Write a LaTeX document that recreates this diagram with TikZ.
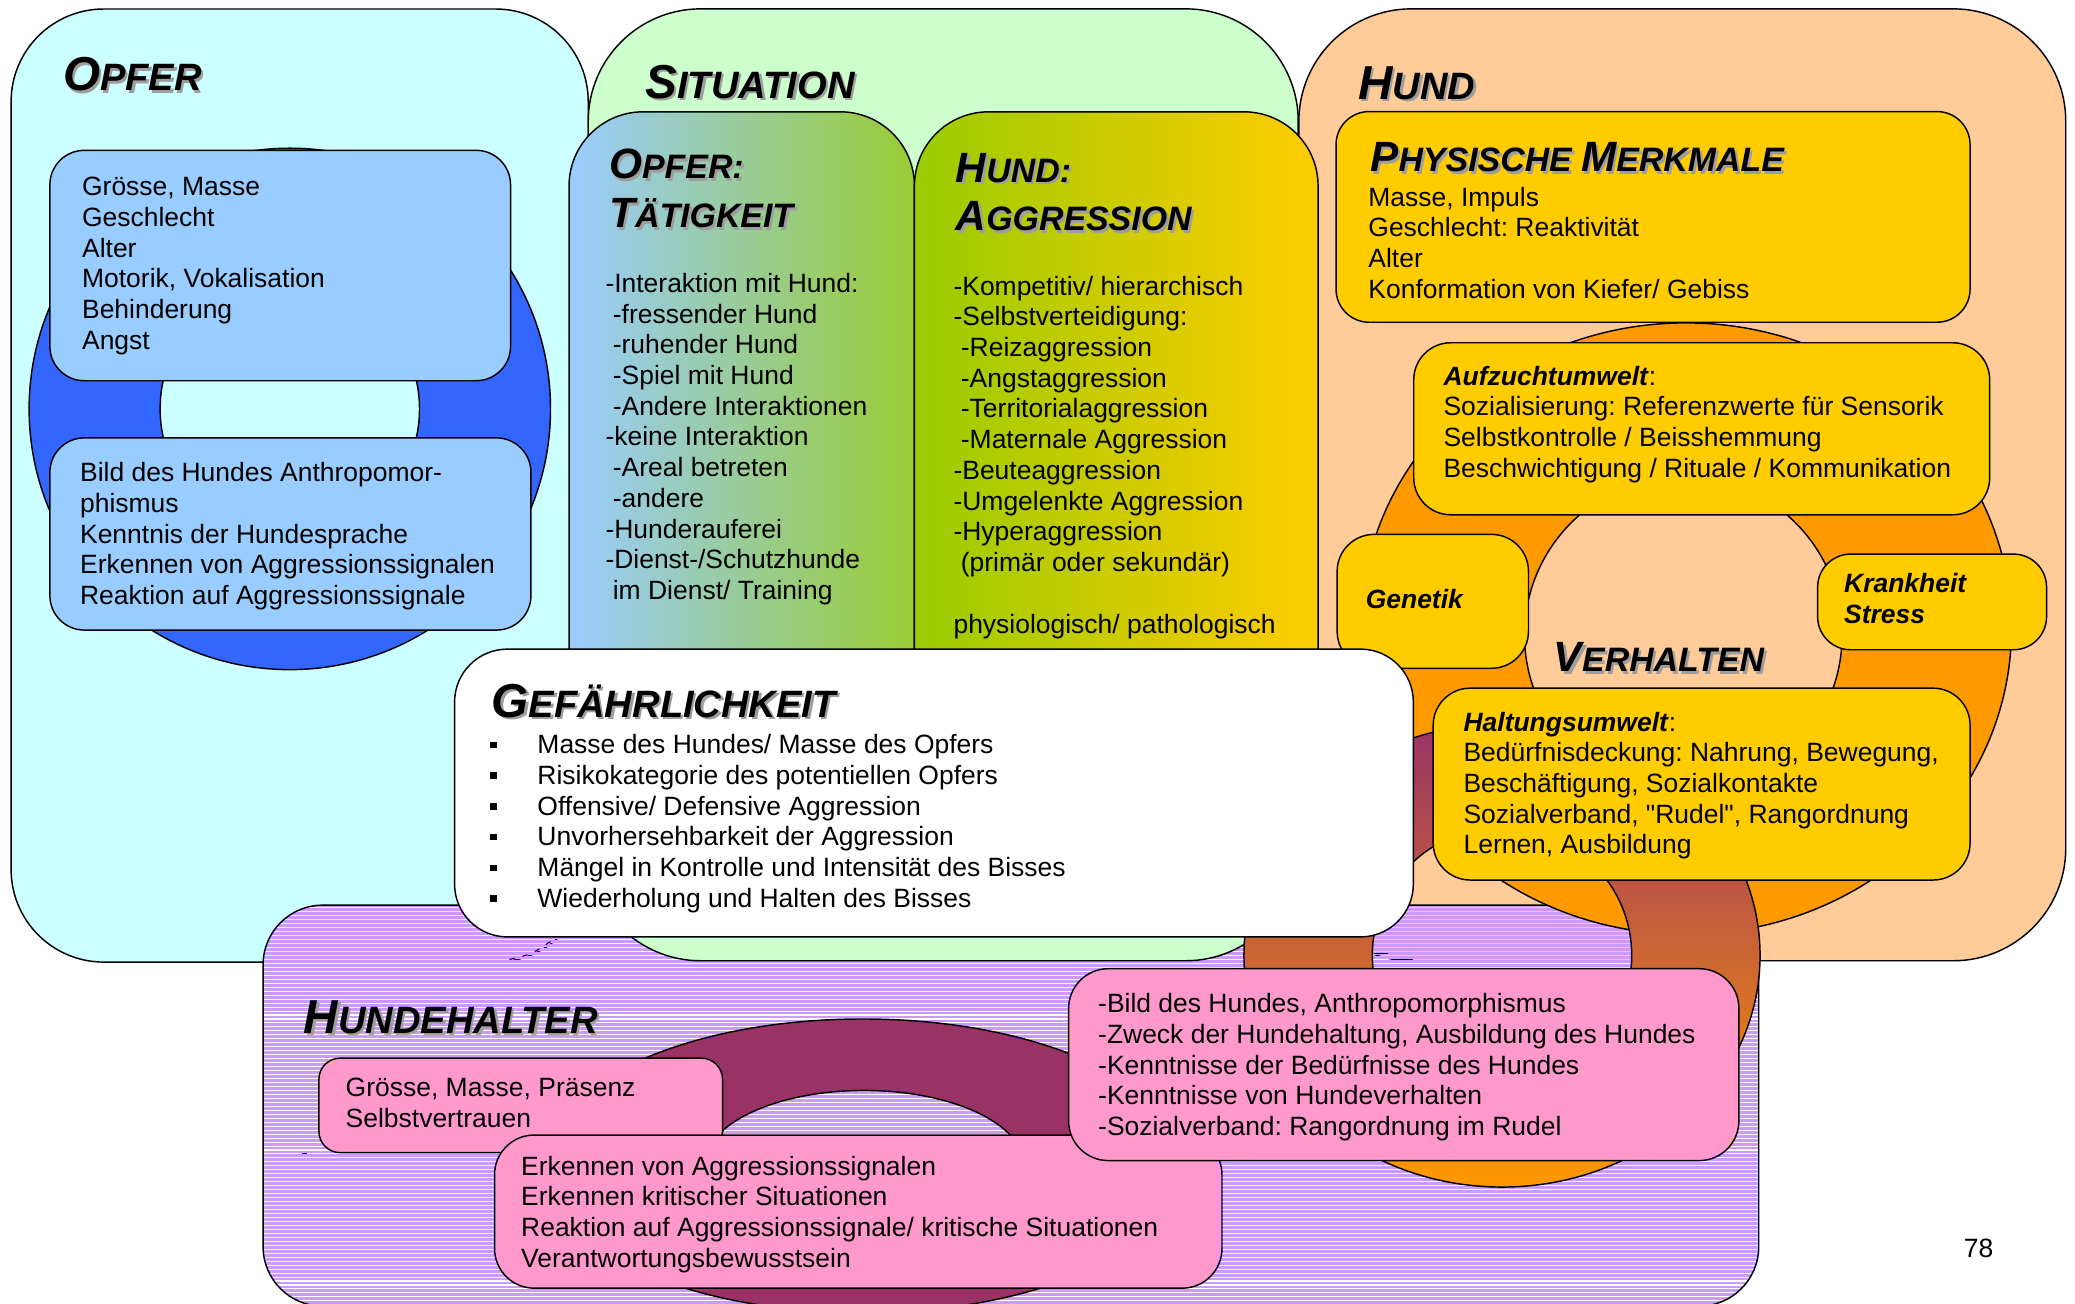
\documentclass[tikz,border=0pt]{standalone}
\usepackage{fontspec}
\setmainfont{Liberation Sans}
\newfontfamily\qfont{Liberation Sans}
\definecolor{cyanP}{HTML}{CCFFFF}
\definecolor{greenP}{HTML}{CCFFCC}
\definecolor{peachP}{HTML}{FFCC99}
\definecolor{blueR}{HTML}{3366FF}
\definecolor{lblue}{HTML}{99CCFF}
\definecolor{yelB}{HTML}{FFCC00}
\definecolor{orngR}{HTML}{FF9900}
\definecolor{purpP}{HTML}{CC99FF}
\definecolor{pinkB}{HTML}{FF99CC}
\definecolor{maroonR}{HTML}{993366}
\definecolor{grnY}{HTML}{99CC00}
\definecolor{grnB}{HTML}{99CC33}
\newcommand\HA[2]{{\fontsize{36}{40}\selectfont #1}{\fontsize{28.8}{32}\selectfont #2}}
\newcommand\HB[2]{{\fontsize{32}{36}\selectfont #1}{\fontsize{25.6}{30}\selectfont #2}}
\newcommand\heading[4]{\node[hd, text=black!38] (#1s) at ({#2+1.8},{#3+1.8}) {#4};\node[hd] (#1) at (#2,#3) {#4};}
\newcommand\tlines[4]{\foreach \tx [count=\ii] in {#4} {\node[txt] (#1-\ii) at (#2,{#3+(\ii-1)*23.2}) {\tx};}}
\newcommand\sq{{\qfont"}}
\frenchspacing
\begin{document}
\frenchspacing
\begin{tikzpicture}[x=1pt,y=-1pt,line width=1.1pt,
  txt/.style={anchor=base west,inner sep=0pt,font=\fontsize{20}{24}\selectfont\frenchspacing},
  hd/.style={anchor=base west,inner sep=0pt,font=\bfseries\itshape}]
\useasboundingbox (0,0) rectangle (1568,985);
\fill[white] (0,0) rectangle (1568,985);

% ---- panels
\draw[fill=cyanP,rounded corners=70pt] (8.4,6.8) rectangle (444.5,727);
\draw[fill=peachP,rounded corners=85pt] (981.5,6.7) rectangle (1561,726);
\begin{scope}
  \clip[rounded corners=45pt] (198.8,684) rectangle (1329,987);
  \foreach \yy in {684.5,687.5,...,990} {\draw[purpP,line width=2.2pt] (190,\yy) -- (1340,\yy);}
\end{scope}
\draw[rounded corners=45pt] (198.8,684) rectangle (1329,987);
\draw[fill=greenP,rounded corners=85pt] (444.5,6.7) rectangle (981,726);

% ---- Opfer
\path[fill=blueR,draw=black,even odd rule] (219,309) circle[radius=197pt] (219,309) circle[radius=98pt];
\draw[fill=lblue,rounded corners=26pt] (37.7,113.6) rectangle (385.8,287.7);
\draw[fill=lblue,rounded corners=26pt] (37.7,330.9) rectangle (401.2,476.1);
\heading{hOpfer}{47.2}{68.5}{\HA{O}{PFER}}
\tlines{op1}{61.5}{148}{{Grösse, Masse},{Geschlecht},{Alter},{Motorik, Vokalisation},{Behinderung},{Angst}}
\tlines{op2}{60}{364}{{Bild des Hundes Anthropomor-},{phismus},{Kenntnis der Hundesprache},{Erkennen von Aggressionssignalen},{Reaktion auf Aggressionssignale}}

% ---- Situation
\heading{hSit}{487.3}{74.2}{\HA{S}{ITUATION}}
\path[draw=black,left color=lblue,right color=grnB,rounded corners=56pt] (430,84.5) rectangle (691,620);
\path[draw=black,left color=grnY,right color=yelB,rounded corners=56pt] (691,84.5) rectangle (996,620);
\heading{hOT1}{459.8}{135}{\HB{O}{PFER:}}
\heading{hOT2}{459.8}{172}{\HB{T}{ÄTIGKEIT}}
\heading{hHA1}{721.7}{137.6}{\HB{H}{UND:}}
\heading{hHA2}{721.7}{174.4}{\HB{A}{GGRESSION}}
\tlines{ot}{457}{221}{{-Interaktion mit Hund:},{\ -fressender Hund},{\ -ruhender Hund},{\ -Spiel mit Hund},{\ -Andere Interaktionen},{-keine Interaktion},{\ -Areal betreten},{\ -andere},{-Hunderauferei},{-Dienst-/Schutzhunde},{\ im Dienst/ Training}}
\tlines{ag}{720}{223}{{-Kompetitiv/ hierarchisch},{-Selbstverteidigung:},{\ -Reizaggression},{\ -Angstaggression},{\ -Territorialaggression},{\ -Maternale Aggression},{-Beuteaggression},{-Umgelenkte Aggression},{-Hyperaggression},{\ (primär oder sekundär)}}
\node[txt] (agPhys) at (720,478.4) {physiologisch/ pathologisch};

% ---- Hund
\path[fill=orngR,draw=black,even odd rule] (1274,475) ellipse[x radius=246pt,y radius=231pt] (1272,480) circle[radius=120pt];
\draw[fill=yelB,rounded corners=25pt] (1009.6,84.3) rectangle (1488.7,243.5);
\draw[fill=yelB,rounded corners=28pt] (1068.3,259) rectangle (1503.5,389);
\draw[fill=yelB,rounded corners=28pt] (1010.4,403.8) rectangle (1155,505);
\draw[fill=yelB,rounded corners=25pt] (1373.5,418.7) rectangle (1546.5,491);
\heading{hHund}{1026}{75}{\HA{H}{UND}}
\heading{hPhys}{1035}{129.9}{\HB{P}{HYSISCHE}\hspace{7pt}\HB{M}{ERKMALE}}
\tlines{ph}{1033.5}{155.8}{{Masse, Impuls},{Geschlecht: Reaktivität},{Alter},{Konformation von Kiefer/ Gebiss}}
\tlines{au}{1090.3}{291}{{\textbf{\textit{Aufzuchtumwelt}}:},{Sozialisierung: Referenzwerte für Sensorik},{Selbstkontrolle / Beisshemmung},{Beschwichtigung / Rituale / Kommunikation}}
\node[txt,font=\fontsize{20}{24}\selectfont\bfseries\itshape] (gen) at (1031.5,459.5) {Genetik};
\node[txt,font=\fontsize{20}{24}\selectfont\bfseries\itshape] (kr1) at (1393,448) {Krankheit};
\node[txt,font=\fontsize{20}{24}\selectfont\bfseries\itshape] (kr2) at (1393,471.2) {Stress};
\heading{hVerh}{1173.7}{507.7}{\HB{V}{ERHALTEN}}

% ---- connecting ring
\path[draw=black,top color=maroonR,bottom color=orngR,even odd rule] (1135,722) ellipse[x radius=195pt,y radius=175pt] (1135,722) ellipse[x radius=98pt,y radius=97pt];
\draw[fill=yelB,rounded corners=28pt] (1083,520) rectangle (1488.7,665);
\tlines{ha}{1105.4}{552.4}{{\textbf{\textit{Haltungsumwelt}}:},{Bedürfnisdeckung: Nahrung, Bewegung,},{Beschäftigung, Sozialkontakte},{Sozialverband, \sq Rudel\sq, Rangordnung},{Lernen, Ausbildung}}

% ---- Gefaehrlichkeit
\draw[fill=white,rounded corners=40pt] (343.5,490.5) rectangle (1068,708);
\heading{hGef}{371}{542.2}{\HA{G}{EFÄHRLICHKEIT}}
\tlines{gf}{405.6}{569.5}{{Masse des Hundes/ Masse des Opfers},{Risikokategorie des potentiellen Opfers},{Offensive/ Defensive Aggression},{Unvorhersehbarkeit der Aggression},{Mängel in Kontrolle und Intensität des Bisses},{Wiederholung und Halten des Bisses}}
\foreach \k in {0,...,5} {\fill[black] (370.5,{569.5+\k*23.2-9}) rectangle ++(5,5);}

% ---- Hundehalter
\path[fill=maroonR,draw=black,even odd rule] (652,881) ellipse[x radius=242pt,y radius=111pt] (653,881) ellipse[x radius=121pt,y radius=57pt];
\heading{hHH}{229}{780.7}{\HA{H}{UNDEHALTER}}
\draw[fill=pinkB,rounded corners=16pt] (241,799.6) rectangle (546,871);
\tlines{hg}{260.7}{828.7}{{Grösse, Masse, Präsenz},{Selbstvertrauen}}
\draw[fill=pinkB,rounded corners=30pt] (373.7,857.7) rectangle (923.4,973.4);
\tlines{he}{393.3}{888}{{Erkennen von Aggressionssignalen},{Erkennen kritischer Situationen},{Reaktion auf Aggressionssignale/ kritische Situationen},{Verantwortungsbewusstsein}}
\draw[fill=pinkB,rounded corners=30pt] (807.5,732) rectangle (1314,877);
\tlines{hb}{829.3}{765.2}{{-Bild des Hundes, Anthropomorphismus},{-Zweck der Hundehaltung, Ausbildung des Hundes},{-Kenntnisse der Bedürfnisse des Hundes},{-Kenntnisse von Hundeverhalten},{-Sozialverband: Rangordnung im Rudel}}

% ---- small marks
\draw[line width=0.8pt,dash pattern=on 4pt off 6pt] (385,725) .. controls (402,721) .. (418,710);
\draw[line width=0.8pt] (228,871.5) -- (232,871.5);
\draw[line width=0.8pt] (1038,720.5) -- (1049,720.5);
\draw[line width=0.8pt] (1057,725) -- (1068,725);
\node[txt] (page) at (1483.5,950) {78};
\end{tikzpicture}
\end{document}
